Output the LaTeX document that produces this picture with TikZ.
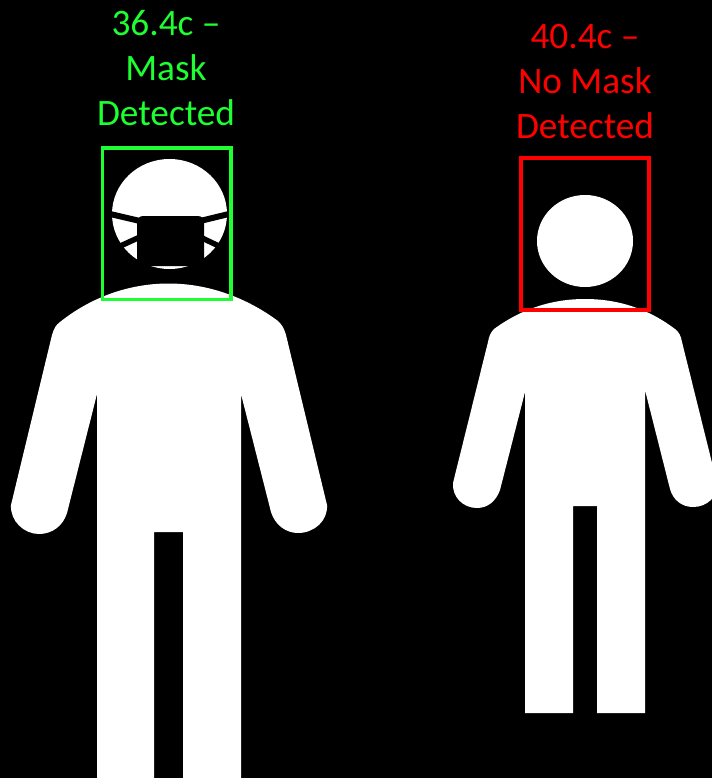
\documentclass[tikz,border=0pt]{standalone}
\usepackage{fontspec}
\setmainfont{Carlito}
\usepackage{xcolor}
\usetikzlibrary{positioning}
\definecolor{maskgreen}{RGB}{30,255,50}
\definecolor{nomaskred}{RGB}{255,0,0}
\tikzset{
  personfill/.style={fill=white},
  facebox/.style={draw=#1, line width=3.7pt, line join=miter},
  statuslabel/.style={text=#1, align=center, font=\fontsize{37.3}{45}\selectfont},
  maskstrap/.style={draw=black, line width=#1}
}

\begin{document}
\begin{tikzpicture}[x=1pt, y=-1pt]
    % Background
    \clip (0, 0) rectangle (712, 778);
    \fill[black] (0, 0) rectangle (712, 778);

    % Person with mask: body
    \fill[personfill] (97, 778) -- (97, 394) -- (67, 513)
      .. controls (63, 526) and (52, 534) .. (39, 534)
      .. controls (24, 534) and (10, 521) .. (11, 505)
      -- (52, 335) .. controls (54, 328) and (56, 325) .. (60, 322)
      .. controls (90, 298) and (128, 283.5) .. (168.5, 283.5)
      .. controls (209, 283.5) and (247, 298) .. (278, 321)
      .. controls (282, 325) and (284, 328) .. (286, 335)
      -- (327, 505) .. controls (328, 521) and (314, 533) .. (298, 533)
      .. controls (286, 533) and (275, 525) .. (271, 512)
      -- (241, 394) -- (241, 778) -- (183, 778) -- (183, 532) -- (154, 532) -- (154, 778) -- cycle;

    % Person with mask: head and mask
    \fill[personfill] (169.5, 214) ellipse [x radius=57.5, y radius=55];
    \fill[black, rounded corners=6pt] (137, 216) rectangle (204, 266);
    \draw[maskstrap=6pt] (108, 213.5) -- (140, 221);
    \draw[maskstrap=6pt] (231, 213.5) -- (200, 221);
    \draw[maskstrap=5.5pt] (116, 248) -- (140, 237);
    \draw[maskstrap=5.5pt] (223, 248) -- (200, 237);

    % Person without mask: body
    \fill[personfill] (525, 713) -- (525, 392) -- (500, 490)
      .. controls (496, 501) and (488, 508) .. (477, 508)
      .. controls (463, 508) and (452, 497) .. (453, 483)
      -- (488, 342) .. controls (489, 336) and (491, 332) .. (494, 329)
      .. controls (520, 310) and (550, 299) .. (585, 299)
      .. controls (620, 299) and (650, 310) .. (675, 329)
      .. controls (679, 332) and (681, 336) .. (682, 342)
      -- (717, 483) .. controls (718, 497) and (707, 507) .. (693, 507)
      .. controls (682, 507) and (673, 500) .. (670, 489)
      -- (645, 390) -- (645, 713) -- (597, 713) -- (597, 506) -- (573, 506) -- (573, 713) -- cycle;

    % Person without mask: head
    \fill[personfill] (585, 241) ellipse [x radius=48, y radius=46];

    % Detection boxes
    \draw[facebox=maskgreen] (102.5, 148) rectangle (230.8, 299.5);
    \draw[facebox=nomaskred] (521.3, 158) rectangle (649, 309.8);

    % Labels
    \node[statuslabel=maskgreen] (masklabel) at (166, 68.5) {36.4c –\\Mask\\Detected};
    \node[statuslabel=nomaskred] (nomasklabel) at (585, 82) {40.4c –\\No Mask\\Detected};
\end{tikzpicture}
\end{document}
